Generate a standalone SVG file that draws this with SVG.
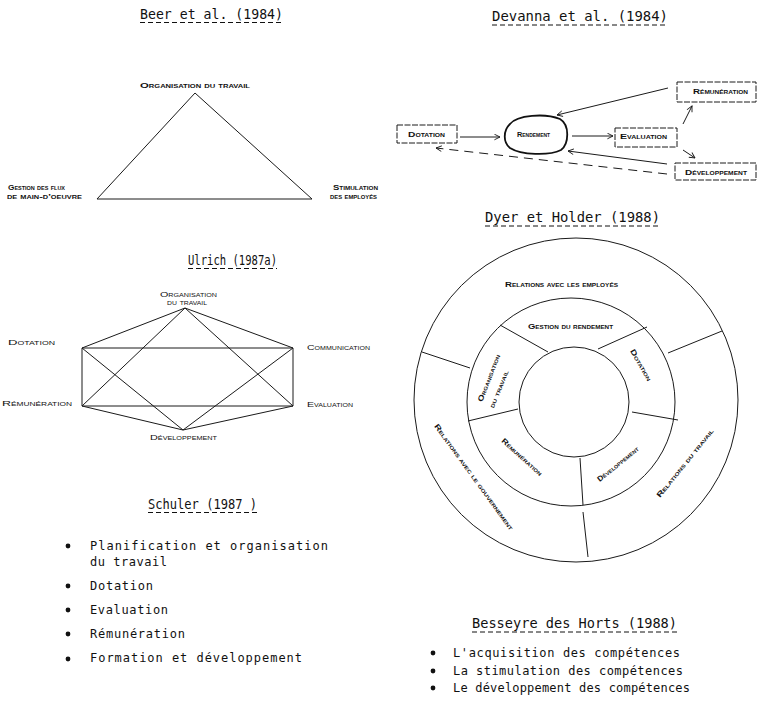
<svg xmlns="http://www.w3.org/2000/svg" width="759" height="710" viewBox="0 0 759 710">
  <style>
    .title { font-family: "DejaVu Sans Mono", "Liberation Mono", monospace; font-size: 13.5px; fill: #111; }
    .uline { stroke: #111; stroke-width: 1; stroke-dasharray: 5 3; fill: none; }
    .sc { font-family: "Liberation Sans", Arial, sans-serif; font-size: 7.5px; font-variant: small-caps; font-weight: bold; fill: #111; }
    .scl { font-family: "Liberation Sans", Arial, sans-serif; font-size: 7.5px; font-variant: small-caps; fill: #111; }
    .item { font-family: "DejaVu Sans Mono", "Liberation Mono", monospace; font-size: 12px; fill: #111; }
    .ln { stroke: #1a1a1a; stroke-width: 1; fill: none; }
    .box { stroke: #1a1a1a; stroke-width: 1; fill: none; stroke-dasharray: 6 1.5; }
    .arrow { stroke: #1a1a1a; stroke-width: 1; fill: none; marker-end: url(#head); }
    .bullet { fill: #111; }
  </style>
  <defs>
    <marker id="head" viewBox="0 0 10 10" refX="9" refY="5" markerWidth="7" markerHeight="7" orient="auto">
      <path d="M1,1 L9,5 L1,9" fill="none" stroke="#1a1a1a" stroke-width="1.3"/>
    </marker>
  </defs>
  <rect width="759" height="710" fill="#fff"/>

  <!-- Beer et al. (1984): triangle model -->
  <g id="beer">
    <text class="title" x="140" y="19" textLength="143" lengthAdjust="spacingAndGlyphs">Beer et al. (1984)</text>
    <line class="uline" x1="140" y1="22.5" x2="283" y2="22.5"/>
    <polygon class="ln" points="195,93 97,199 312,199" stroke-width="1.2"/>
    <text class="sc" x="140" y="88" textLength="110" lengthAdjust="spacingAndGlyphs">Organisation du travail</text>
    <text class="sc" x="8" y="190" textLength="57" lengthAdjust="spacingAndGlyphs">Gestion des flux</text>
    <text class="sc" x="7" y="199" textLength="75" lengthAdjust="spacingAndGlyphs">de main-d'oeuvre</text>
    <text class="sc" x="333" y="190" textLength="45" lengthAdjust="spacingAndGlyphs">Stimulation</text>
    <text class="sc" x="330" y="199" textLength="47" lengthAdjust="spacingAndGlyphs">des employés</text>
  </g>

  <!-- Devanna et al. (1984): flow model -->
  <g id="devanna">
    <text class="title" x="492" y="21" textLength="176" lengthAdjust="spacingAndGlyphs">Devanna et al. (1984)</text>
    <line class="uline" x1="492" y1="25" x2="668" y2="25"/>
    <g id="dev-dotation">
      <rect class="box" x="397" y="125" width="60" height="18"/>
      <text class="sc" x="408" y="137" textLength="37" lengthAdjust="spacingAndGlyphs">Dotation</text>
    </g>
    <g id="dev-rendement">
      <path d="M510,124 C517,115 545,113 560,119 C570,125 569,144 561,150 C549,156 521,155 510,148 C503,142 503,131 510,124 Z" fill="none" stroke="#111" stroke-width="1.8"/>
      <text class="sc" x="517" y="137" textLength="33" lengthAdjust="spacingAndGlyphs">Rendement</text>
    </g>
    <g id="dev-evaluation">
      <rect class="box" x="615" y="128" width="62" height="19" stroke-dasharray="2 1.5"/>
      <text class="sc" x="620" y="139" textLength="47" lengthAdjust="spacingAndGlyphs">Evaluation</text>
    </g>
    <g id="dev-remuneration">
      <rect class="box" x="677" y="82" width="79" height="20"/>
      <text class="sc" x="693" y="94" textLength="55" lengthAdjust="spacingAndGlyphs">Rémunération</text>
    </g>
    <g id="dev-developpement">
      <rect class="box" x="675" y="163" width="81" height="17"/>
      <text class="sc" x="685" y="175" textLength="62" lengthAdjust="spacingAndGlyphs">Développement</text>
    </g>
    <g id="dev-connectors">
      <line class="arrow" x1="460" y1="137" x2="500" y2="137"/>
      <line class="arrow" x1="572" y1="136" x2="613" y2="136"/>
      <line class="arrow" x1="668" y1="88" x2="557" y2="115"/>
      <line class="arrow" x1="683" y1="124" x2="692" y2="106"/>
      <line class="arrow" x1="683" y1="150" x2="695" y2="158"/>
      <line class="arrow" x1="667" y1="164" x2="568" y2="151"/>
      <line class="arrow" x1="667" y1="174" x2="436" y2="148" stroke-dasharray="9 6"/>
    </g>
  </g>

  <!-- Ulrich (1987a): hexagon model -->
  <g id="ulrich">
    <text class="title" x="188" y="265" textLength="89" lengthAdjust="spacingAndGlyphs">Ulrich (1987a)</text>
    <line class="uline" x1="188" y1="268.5" x2="277" y2="268.5"/>
    <g id="ulrich-connectors">
      <polygon class="ln" points="185,308 293,348 293,406 183,430 82,406 82,348"/>
      <line class="ln" x1="82" y1="348" x2="293" y2="348"/>
      <line class="ln" x1="82" y1="406" x2="293" y2="406"/>
      <line class="ln" x1="185" y1="308" x2="82" y2="406"/>
      <line class="ln" x1="185" y1="308" x2="293" y2="406"/>
      <line class="ln" x1="82" y1="348" x2="183" y2="430"/>
      <line class="ln" x1="293" y1="348" x2="183" y2="430"/>
    </g>
    <text class="scl" x="160" y="297" font-size="6.5" textLength="57" lengthAdjust="spacingAndGlyphs">Organisation</text>
    <text class="scl" x="167" y="305" font-size="6.5" textLength="40" lengthAdjust="spacingAndGlyphs">du travail</text>
    <text class="scl" x="8" y="345" textLength="47" lengthAdjust="spacingAndGlyphs">Dotation</text>
    <text class="scl" x="307" y="350" textLength="63" lengthAdjust="spacingAndGlyphs">Communication</text>
    <text class="scl" x="2" y="406" textLength="70" lengthAdjust="spacingAndGlyphs">Rémunération</text>
    <text class="scl" x="307" y="407" textLength="46" lengthAdjust="spacingAndGlyphs">Evaluation</text>
    <text class="scl" x="150" y="440" textLength="67" lengthAdjust="spacingAndGlyphs">Développement</text>
  </g>

  <!-- Dyer et Holder (1988): concentric rings -->
  <g id="dyer">
    <text class="title" x="485" y="222" textLength="175" lengthAdjust="spacingAndGlyphs">Dyer et Holder (1988)</text>
    <line class="uline" x1="485" y1="226" x2="660" y2="226"/>
    <circle class="ln" cx="576" cy="400" r="162"/>
    <circle class="ln" cx="571" cy="402" r="104"/>
    <circle class="ln" cx="574" cy="402" r="55"/>
    <!-- inner ring dividers -->
    <line class="ln" x1="500" y1="325" x2="548" y2="352"/>
    <line class="ln" x1="598" y1="349" x2="647" y2="327"/>
    <line class="ln" x1="632" y1="412" x2="678" y2="420"/>
    <line class="ln" x1="468" y1="421" x2="518" y2="409"/>
    <line class="ln" x1="580" y1="458" x2="583" y2="505"/>
    <!-- outer ring dividers -->
    <line class="ln" x1="422" y1="352" x2="470" y2="368"/>
    <line class="ln" x1="668" y1="353" x2="722" y2="331"/>
    <line class="ln" x1="583" y1="512" x2="588" y2="557"/>
    <text class="sc" x="505" y="287" textLength="113" lengthAdjust="spacingAndGlyphs">Relations avec les employés</text>
    <text class="sc" x="528" y="329" textLength="85" lengthAdjust="spacingAndGlyphs">Gestion du rendement</text>
    <text class="sc" text-anchor="middle" transform="translate(641,365) rotate(60)" y="2.5" textLength="35" lengthAdjust="spacingAndGlyphs">Dotation</text>
    <text class="sc" text-anchor="middle" transform="translate(489,378) rotate(-69)" y="2.5" textLength="50" lengthAdjust="spacingAndGlyphs">Organisation</text>
    <text class="sc" text-anchor="middle" transform="translate(499,389) rotate(-68)" y="2.5" textLength="40" lengthAdjust="spacingAndGlyphs">du travail</text>
    <text class="sc" text-anchor="middle" transform="translate(522,457) rotate(42)" y="2.5" textLength="52" lengthAdjust="spacingAndGlyphs">Rémunération</text>
    <text class="sc" text-anchor="middle" transform="translate(618,464) rotate(-39)" y="2.5" textLength="51" lengthAdjust="spacingAndGlyphs">Développement</text>
    <text class="sc" text-anchor="middle" transform="translate(474,477) rotate(54)" y="2.5" textLength="129" lengthAdjust="spacingAndGlyphs">Relations avec le gouvernement</text>
    <text class="sc" text-anchor="middle" transform="translate(685,463) rotate(-51)" y="2.5" textLength="86" lengthAdjust="spacingAndGlyphs">Relations du travail</text>
  </g>

  <!-- Schuler (1987): list -->
  <g id="schuler">
    <text class="title" x="148" y="509" textLength="109" lengthAdjust="spacingAndGlyphs">Schuler (1987 )</text>
    <line class="uline" x1="148" y1="512.5" x2="257" y2="512.5"/>
    <circle class="bullet" cx="68" cy="546" r="2.4"/>
    <text class="item" x="90" y="550" textLength="238" lengthAdjust="spacing">Planification et organisation</text>
    <text class="item" x="90" y="566" textLength="77" lengthAdjust="spacing">du travail</text>
    <circle class="bullet" cx="68" cy="586" r="2.4"/>
    <text class="item" x="90" y="590" textLength="63" lengthAdjust="spacing">Dotation</text>
    <circle class="bullet" cx="68" cy="610" r="2.4"/>
    <text class="item" x="90" y="614" textLength="78" lengthAdjust="spacing">Evaluation</text>
    <circle class="bullet" cx="68" cy="634" r="2.4"/>
    <text class="item" x="90" y="638" textLength="95" lengthAdjust="spacing">Rémunération</text>
    <circle class="bullet" cx="68" cy="659" r="2.4"/>
    <text class="item" x="90" y="662" textLength="212" lengthAdjust="spacing">Formation et développement</text>
  </g>

  <!-- Besseyre des Horts (1988): list -->
  <g id="besseyre">
    <text class="title" x="472" y="628" textLength="205" lengthAdjust="spacingAndGlyphs">Besseyre des Horts (1988)</text>
    <line class="uline" x1="472" y1="632" x2="677" y2="632"/>
    <circle class="bullet" cx="433" cy="653" r="2.4"/>
    <text class="item" x="453" y="657" textLength="227" lengthAdjust="spacing">L'acquisition des compétences</text>
    <circle class="bullet" cx="433" cy="671" r="2.4"/>
    <text class="item" x="453" y="675" textLength="230" lengthAdjust="spacing">La stimulation des compétences</text>
    <circle class="bullet" cx="433" cy="688" r="2.4"/>
    <text class="item" x="453" y="692" textLength="237" lengthAdjust="spacing">Le développement des compétences</text>
  </g>
</svg>
